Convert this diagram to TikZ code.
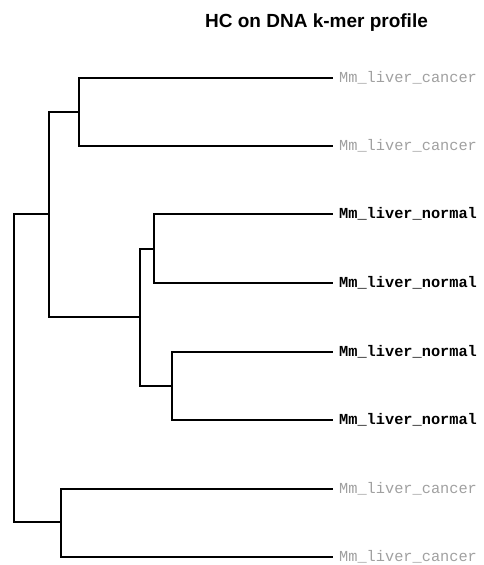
\documentclass[tikz,border=0pt]{standalone}
\usepackage{fontspec}
\setmainfont{Liberation Sans}
\newfontfamily\labfont{Liberation Mono}
\definecolor{cancergray}{HTML}{A0A0A0}
\begin{document}
\begin{tikzpicture}[x=1pt,y=-1pt,
  branch/.style={line width=1.8pt,line cap=rect,line join=miter},
  cancerlab/.style={anchor=base west,inner sep=0pt,text=cancergray,font=\labfont\fontsize{15.3}{16}\selectfont},
  normallab/.style={anchor=base west,inner sep=0pt,text=black,font=\labfont\bfseries\fontsize{15.3}{16}\selectfont},
  titlestyle/.style={anchor=base,inner sep=0pt,font=\bfseries\fontsize{19}{21}\selectfont}]
\useasboundingbox (0,0) rectangle (484,565);
\node[titlestyle] (title) at (316.5,27) {HC on DNA k-mer profile};
% leaves
\coordinate (l1) at (332,78);
\coordinate (l2) at (332,146);
\coordinate (l3) at (332,214);
\coordinate (l4) at (332,283);
\coordinate (l5) at (332,352);
\coordinate (l6) at (332,420);
\coordinate (l7) at (332,489);
\coordinate (l8) at (332,557);
% internal nodes
\coordinate (a) at (79,112);
\coordinate (b) at (154,249);
\coordinate (c) at (172,386);
\coordinate (d) at (140,317);
\coordinate (e) at (49,214);
\coordinate (f) at (61,522);
\coordinate (r) at (14,368);
% labels
\node[cancerlab] (t1) at (339,82) {Mm\_liver\_cancer};
\node[cancerlab] (t2) at (339,150) {Mm\_liver\_cancer};
\node[normallab] (t3) at (339,218) {Mm\_liver\_normal};
\node[normallab] (t4) at (339,287) {Mm\_liver\_normal};
\node[normallab] (t5) at (339,356) {Mm\_liver\_normal};
\node[normallab] (t6) at (339,424) {Mm\_liver\_normal};
\node[cancerlab] (t7) at (339,493) {Mm\_liver\_cancer};
\node[cancerlab] (t8) at (339,561) {Mm\_liver\_cancer};
% branches
\draw[branch] (l1) -| (a) |- (l2);
\draw[branch] (l3) -| (b) |- (l4);
\draw[branch] (l5) -| (c) |- (l6);
\draw[branch] (b) -| (d) |- (c);
\draw[branch] (a) -| (e) |- (d);
\draw[branch] (l7) -| (f) |- (l8);
\draw[branch] (e) -| (r) |- (f);
\end{tikzpicture}
\end{document}
